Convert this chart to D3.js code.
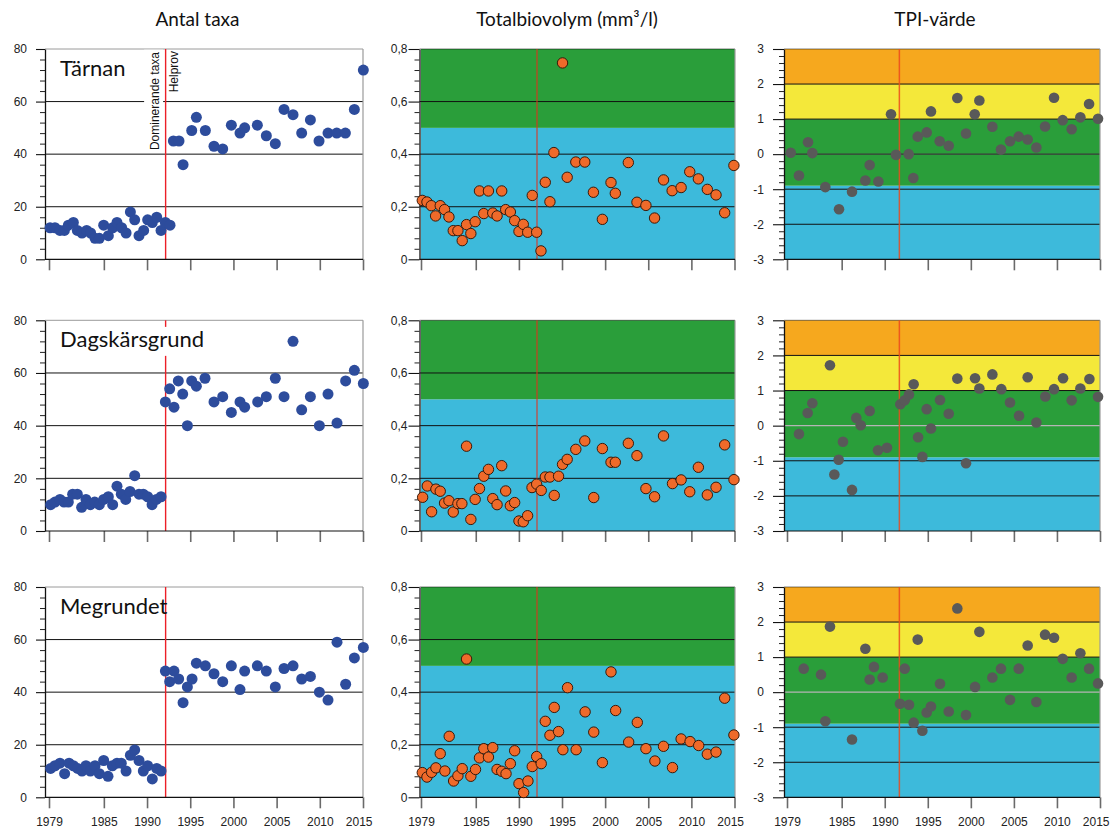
<!DOCTYPE html>
<html>
<head>
<meta charset="utf-8">
<script src="https://cdn.jsdelivr.net/npm/d3@7"></script>
<style>
  body { margin: 0; background: #fff; }
  svg { display: block; }
</style>
</head>
<body>
<svg id="chart" width="1112" height="830"></svg>
<script>
// ---------------------------------------------------------------
// Växtplankton i Bottenviken: antal taxa, totalbiovolym och TPI
// per station, 1979–2015. Varje punkt = [provtagningsår, värde].
// ---------------------------------------------------------------
const stations = ["Tärnan", "Dagskärsgrund", "Megrundet"];
const columnTitles = ["Antal taxa", "Totalbiovolym (mm³/l)", "TPI-värde"];

const xTickYears  = [1978.65, 1985, 1990, 1995, 2000, 2005, 2010, 2015];
const xTickLabels = ["1979", "1985", "1990", "1995", "2000", "2005", "2010", "2015"];

const taxaTicks = [0, 20, 40, 60, 80];
const taxaTickLabels = ["0", "20", "40", "60", "80"];
const volTicks = [0, 0.2, 0.4, 0.6, 0.8];
const volTickLabels = ["0", "0,2", "0,4", "0,6", "0,8"];
const tpiTicks = [-3, -2, -1, 0, 1, 2, 3];
const tpiTickLabels = ["-3", "-2", "-1", "0", "1", "2", "3"];

// Klassgränser (bakgrundsfält)
const volBands = [[0, 0.5], [0.5, 0.8]];
const tpiBands = [[-3, -0.9], [-0.9, 1], [1, 2], [2, 3]];

// Byte från dominerande taxa till helprov
const methodChangeYear = [1992.15, 1992.1, 1991.7];
const methodLabels = ["Dominerande taxa", "Helprov"];

// ---------------- Tärnan ----------------
const tarnanTaxa = [
  [1978.77,12],[1979.34,12],[1979.92,11],[1980.43,11],[1980.89,13],[1981.47,14],[1981.93,11],
  [1982.47,10],[1983.01,11],[1983.47,10],[1983.98,8],[1984.48,8],[1984.98,13],[1985.52,9],
  [1986.02,12],[1986.52,14],[1987.06,12],[1987.57,10],[1988.07,18],[1988.57,15],[1989.07,9],
  [1989.61,11],[1990.07,15],[1990.61,14],[1991.12,16],[1991.62,11],[1992.12,14],[1992.66,13],
  [1993.05,45],[1993.70,45],[1994.17,36],[1995.17,49],[1995.71,54],[1996.75,49],[1997.75,43],
  [1998.76,42],[1999.76,51],[2000.76,48],[2001.30,50],[2002.77,51],[2003.81,47],[2004.85,44],
  [2005.86,57],[2006.90,55],[2007.90,48],[2008.91,53],[2009.91,45],[2010.95,48],[2011.96,48],
  [2012.96,48],[2014.00,57],[2015.04,72]
];
const tarnanVolume = [
  [1978.80,0.224],[1979.34,0.218],[1979.84,0.204],[1980.34,0.165],[1980.88,0.204],[1981.38,0.189],
  [1981.89,0.161],[1982.39,0.109],[1982.93,0.109],[1983.43,0.071],[1983.93,0.132],[1984.43,0.098],
  [1984.93,0.143],[1985.43,0.260],[1985.93,0.174],[1986.47,0.260],[1986.97,0.176],[1987.47,0.165],
  [1988.01,0.260],[1988.47,0.189],[1989.01,0.180],[1989.51,0.147],[1990.01,0.106],[1990.51,0.133],
  [1991.02,0.103],[1991.55,0.243],[1992.06,0.103],[1992.56,0.032],[1993.06,0.293],[1993.60,0.219],
  [1994.06,0.406],[1995.06,0.747],[1995.60,0.312],[1996.60,0.370],[1997.64,0.370],[1998.64,0.255],
  [1999.68,0.152],[2000.68,0.292],[2001.18,0.251],[2002.69,0.368],[2003.69,0.217],[2004.73,0.205],
  [2005.73,0.157],[2006.77,0.302],[2007.77,0.261],[2008.81,0.273],[2009.81,0.333],[2010.81,0.306],
  [2011.85,0.266],[2012.86,0.245],[2013.86,0.177],[2014.93,0.357]
];
const tarnanTpi = [
  [1979.08,0.04],[1980.04,-0.61],[1981.09,0.34],[1981.59,0.03],[1983.10,-0.94],[1984.69,-1.57],
  [1986.20,-1.07],[1987.75,-0.75],[1988.25,-0.31],[1989.26,-0.78],[1990.73,1.14],[1991.31,-0.02],
  [1992.78,0.00],[1993.32,-0.68],[1993.83,0.50],[1994.87,0.62],[1995.37,1.22],[1996.38,0.37],
  [1997.43,0.24],[1998.43,1.60],[1999.44,0.59],[2000.45,1.14],[2000.99,1.53],[2002.50,0.78],
  [2003.50,0.13],[2004.55,0.37],[2005.56,0.50],[2006.60,0.42],[2007.61,0.19],[2008.62,0.79],
  [2009.66,1.61],[2010.67,0.97],[2011.71,0.71],[2012.72,1.05],[2013.73,1.43],[2014.77,1.01]
];

// ---------------- Dagskärsgrund ----------------
const dagskarTaxa = [
  [1978.84,10],[1979.34,11],[1979.92,12],[1980.39,11],[1980.89,11],[1981.39,14],[1981.93,14],
  [1982.43,9],[1982.93,12],[1983.44,10],[1983.94,11],[1984.48,10],[1984.98,12],[1985.52,13],
  [1986.02,10],[1986.52,17],[1987.02,14],[1987.53,12],[1988.03,15],[1988.57,21],[1989.07,14],
  [1989.57,14],[1990.07,13],[1990.58,10],[1991.08,12],[1991.62,13],
  [1992.12,49],[1992.62,54],[1993.12,47],[1993.62,57],[1994.13,52],[1994.67,40],[1995.17,57],
  [1995.71,55],[1996.71,58],[1997.75,49],[1998.76,51],[1999.76,45],[2000.76,49],[2001.30,47],
  [2002.81,49],[2003.81,51],[2004.85,58],[2005.86,51],[2006.90,72],[2007.90,46],[2008.91,51],
  [2009.95,40],[2010.95,52],[2011.99,41],[2012.99,57],[2014.00,61],[2015.04,56]
];
const dagskarVolume = [
  [1978.84,0.128],[1979.38,0.171],[1979.88,0.073],[1980.38,0.159],[1980.88,0.151],[1981.38,0.106],
  [1981.89,0.115],[1982.39,0.072],[1982.93,0.104],[1983.39,0.104],[1983.93,0.322],[1984.43,0.044],
  [1984.93,0.120],[1985.43,0.161],[1985.93,0.208],[1986.47,0.234],[1986.97,0.123],[1987.47,0.100],
  [1988.01,0.248],[1988.47,0.152],[1989.01,0.096],[1989.51,0.108],[1990.01,0.038],[1990.51,0.035],
  [1991.01,0.058],[1991.52,0.165],[1992.06,0.178],[1992.59,0.154],[1993.06,0.205],[1993.60,0.205],
  [1994.10,0.135],[1994.60,0.208],[1995.06,0.253],[1995.60,0.272],[1996.60,0.310],[1997.64,0.342],
  [1998.68,0.127],[1999.68,0.313],[2000.68,0.261],[2001.18,0.261],[2002.69,0.333],[2003.69,0.286],
  [2004.73,0.161],[2005.73,0.130],[2006.77,0.361],[2007.81,0.180],[2008.81,0.194],[2009.81,0.149],
  [2010.81,0.242],[2011.85,0.137],[2012.86,0.166],[2013.86,0.327],[2014.94,0.195]
];
const dagskarTpi = [
  [1980.04,-0.24],[1981.05,0.36],[1981.59,0.64],[1983.64,1.72],[1984.15,-1.39],[1984.65,-0.97],
  [1985.15,-0.46],[1986.20,-1.83],[1986.70,0.22],[1987.21,0.01],[1988.25,0.42],[1989.22,-0.70],
  [1990.26,-0.63],[1991.81,0.61],[1992.32,0.72],[1992.82,0.89],[1993.36,1.18],[1993.87,-0.33],
  [1994.37,-0.89],[1994.87,0.47],[1995.37,-0.08],[1996.42,0.73],[1997.43,0.34],[1998.43,1.34],
  [1999.44,-1.07],[2000.49,1.35],[2000.99,1.06],[2002.50,1.46],[2003.54,1.04],[2004.55,0.66],
  [2005.60,0.28],[2006.60,1.38],[2007.61,0.09],[2008.65,0.83],[2009.66,1.04],[2010.71,1.35],
  [2011.71,0.72],[2012.72,1.06],[2013.77,1.33],[2014.77,0.82]
];

// ---------------- Megrundet ----------------
const megrundetTaxa = [
  [1978.84,11],[1979.34,12],[1979.92,13],[1980.46,9],[1980.97,13],[1981.47,12],[1981.97,11],
  [1982.47,10],[1982.93,12],[1983.44,10],[1983.98,12],[1984.48,9],[1984.98,14],[1985.48,8],
  [1985.98,12],[1986.52,13],[1987.02,13],[1987.57,10],[1988.07,16],[1988.57,18],[1989.07,14],
  [1989.57,10],[1990.07,12],[1990.61,7],[1991.12,11],[1991.62,10],
  [1992.12,48],[1992.62,44],[1993.12,48],[1993.66,45],[1994.17,36],[1994.67,42],[1995.21,45],
  [1995.71,51],[1996.75,50],[1997.75,47],[1998.76,44],[1999.76,50],[2000.76,41],[2001.30,48],
  [2002.77,50],[2003.81,48],[2004.85,42],[2005.86,49],[2006.90,50],[2007.90,45],[2008.91,46],
  [2009.95,40],[2010.95,37],[2011.99,59],[2012.99,43],[2014.00,53],[2015.04,57]
];
const megrundetVolume = [
  [1978.80,0.094],[1979.34,0.077],[1979.88,0.095],[1980.38,0.112],[1980.88,0.166],[1981.42,0.100],
  [1981.92,0.232],[1982.43,0.062],[1982.93,0.082],[1983.43,0.109],[1983.93,0.526],[1984.43,0.080],
  [1984.97,0.106],[1985.43,0.150],[1985.93,0.185],[1986.47,0.153],[1986.97,0.189],[1987.47,0.106],
  [1988.01,0.099],[1988.51,0.090],[1989.01,0.128],[1989.51,0.177],[1990.01,0.052],[1990.55,0.018],
  [1991.05,0.062],[1991.55,0.117],[1992.06,0.155],[1992.59,0.128],[1993.06,0.289],[1993.60,0.236],
  [1994.10,0.342],[1994.60,0.250],[1995.10,0.181],[1995.64,0.417],[1996.64,0.181],[1997.68,0.325],
  [1998.68,0.248],[1999.68,0.132],[2000.68,0.477],[2001.22,0.330],[2002.73,0.210],[2003.73,0.285],
  [2004.73,0.185],[2005.77,0.138],[2006.77,0.194],[2007.81,0.113],[2008.81,0.222],[2009.85,0.212],
  [2010.85,0.197],[2011.85,0.164],[2012.86,0.172],[2013.86,0.377],[2014.93,0.237]
];
const megrundetTpi = [
  [1980.59,0.67],[1982.60,0.50],[1983.10,-0.83],[1983.64,1.87],[1986.20,-1.35],[1987.75,1.24],
  [1988.25,0.36],[1988.75,0.72],[1989.76,0.42],[1991.77,-0.33],[1992.32,0.67],[1992.82,-0.36],
  [1993.36,-0.87],[1993.83,1.50],[1994.37,-1.10],[1994.87,-0.58],[1995.37,-0.41],[1996.42,0.24],
  [1997.43,-0.55],[1998.43,2.39],[1999.44,-0.65],[2000.49,0.15],[2000.99,1.72],[2002.50,0.42],
  [2003.50,0.67],[2004.55,-0.22],[2005.56,0.67],[2006.60,1.33],[2007.61,-0.28],[2008.62,1.64],
  [2009.66,1.55],[2010.67,0.95],[2011.71,0.42],[2012.72,1.11],[2013.73,0.67],[2014.77,0.25]
];

const stationSeries = [
  [tarnanTaxa, tarnanVolume, tarnanTpi],
  [dagskarTaxa, dagskarVolume, dagskarTpi],
  [megrundetTaxa, megrundetVolume, megrundetTpi]
];

// ---------------- Layout & styles ----------------
const BLUE = "#3dbadb", GREEN = "#2a9e3a", YELLOW = "#f4e83a", ORANGE = "#f6a81e";
const rowsY = [[49, 259.3], [320.3, 531], [587, 797.3]];
const xDomain = [1978.65, 2015];

const columns = [
  { axisX: 45,    x0: 49,  x1: 363,   right: 363,  domain: [0, 80],  ticks: taxaTicks, labels: taxaTickLabels,
    minorStep: 4, majorLen: 9, pad: 9, grid: [20, 40, 60], bands: null,
    dot: { r: 5.5, fill: "#2d4c9c", stroke: "none" },
    divider: { color: "#ec1f27", width: 1.4, opacity: 1 }, topBorder: "#9a9a9a" },
  { axisX: 419.5, x0: 421, x1: 734.5, right: 735, domain: [0, 0.8], ticks: volTicks, labels: volTickLabels,
    minorStep: 0.04, majorLen: 11, pad: 1, grid: [0.2, 0.4, 0.6], bands: volBands, bandColors: [BLUE, GREEN], fillX: 421,
    dot: { r: 5.2, fill: "#ef6a2a", stroke: "#3a1a0a" },
    divider: { color: "#e0301e", width: 1.1, opacity: 0.95 }, topBorder: "rgba(0,0,0,0.5)" },
  { axisX: 784,   x0: 787, x1: 1100,  right: 1100, domain: [-3, 3],  ticks: tpiTicks, labels: tpiTickLabels,
    minorStep: 0.2, majorLen: 11, pad: 9, grid: [-2, -1, 1, 2], bands: tpiBands, bandColors: [BLUE, GREEN, YELLOW, ORANGE], fillX: 784.5,
    dot: { r: 5.3, fill: "#595959", stroke: "none" },
    divider: { color: "#ec4a1c", width: 1.5, opacity: 0.85 }, topBorder: "rgba(0,0,0,0.5)" }
];
const tpiZeroColor = ["#3a3a3a", "#b5b5b5", "#b5b5b5"];
const titleX = [197.5, 567, 935];

const svg = d3.select("#chart");

// Kolumnrubriker
svg.selectAll("text.col-title")
  .data(columnTitles)
  .join("text")
  .attr("class", "col-title")
  .attr("x", (d, i) => titleX[i])
  .attr("y", 26)
  .attr("text-anchor", "middle")
  .style("font-family", "Lato, 'Noto Sans', sans-serif")
  .style("font-size", "19px")
  .style("fill", "#111")
  .text(d => d);

rowsY.forEach(([top, bottom], r) => {
  columns.forEach((col, c) => {
    const x = d3.scaleLinear().domain(xDomain).range([col.x0, col.x1]);
    const y = d3.scaleLinear().domain(col.domain).range([bottom, top]);
    const g = svg.append("g");

    // Bakgrundsfält
    if (col.bands) {
      g.selectAll("rect.band")
        .data(col.bands)
        .join("rect")
        .attr("x", col.fillX)
        .attr("width", col.right - col.fillX)
        .attr("y", d => y(d[1]))
        .attr("height", d => y(d[0]) - y(d[1]))
        .attr("fill", (d, i) => col.bandColors[i]);
    }

    // Stödlinjer
    g.selectAll("line.grid")
      .data(col.grid)
      .join("line")
      .attr("x1", col.axisX).attr("x2", col.right)
      .attr("y1", d => y(d)).attr("y2", d => y(d))
      .attr("stroke", "#111").attr("stroke-width", 1);

    if (c === 2) {
      g.append("line")
        .attr("x1", col.axisX).attr("x2", col.right)
        .attr("y1", y(0)).attr("y2", y(0))
        .attr("stroke", tpiZeroColor[r]).attr("stroke-width", 1.2);
    }

    // Ram upptill och till höger
    g.append("line")
      .attr("x1", col.axisX).attr("x2", col.right)
      .attr("y1", top).attr("y2", top)
      .attr("stroke", col.topBorder).attr("stroke-width", 1);
    g.append("line")
      .attr("x1", col.right).attr("x2", col.right)
      .attr("y1", top).attr("y2", bottom)
      .attr("stroke", "#9a9a9a").attr("stroke-width", 1.2);

    // Metodbyte: etiketter (endast Tärnan, antal taxa)
    if (r === 0 && c === 0) {
      const xd = x(methodChangeYear[c]);
      const lab = g.append("g").attr("transform", `translate(${xd - 7},52) rotate(-90)`);
      const bg = lab.append("rect").attr("fill", "#fff");
      const t = lab.append("text")
        .attr("text-anchor", "end")
        .style("font-family", "'Liberation Sans', Arial, sans-serif")
        .style("font-size", "12px")
        .style("fill", "#111")
        .text(methodLabels[0]);
      const bb = t.node().getBBox();
      bg.attr("x", bb.x - 2).attr("y", bb.y - 3.5).attr("width", bb.width + 4).attr("height", bb.height + 5);
      g.append("text")
        .attr("transform", `translate(${xd + 12.5},51) rotate(-90)`)
        .attr("text-anchor", "end")
        .style("font-family", "'Liberation Sans', Arial, sans-serif")
        .style("font-size", "12px")
        .style("fill", "#111")
        .text(methodLabels[1]);
    }

    // Metodbyte: lodrät linje
    const dv = col.divider;
    const xd = x(methodChangeYear[c]);
    const segs = (r === 1 && c === 0) ? [[top, y(77.5)], [y(66.5), bottom]] : [[top, bottom]];
    segs.forEach(([a, b]) => {
      g.append("line")
        .attr("x1", xd).attr("x2", xd).attr("y1", a).attr("y2", b)
        .attr("stroke", dv.color).attr("stroke-width", dv.width).attr("stroke-opacity", dv.opacity);
    });

    // X-axel
    const xAxis = d3.axisBottom(x)
      .tickValues(xTickYears)
      .tickSize(11)
      .tickSizeOuter(0)
      .tickPadding(9)
      .tickFormat((d, i) => r === 2 ? xTickLabels[i] : "");
    const gx = g.append("g").attr("transform", `translate(0,${bottom})`).call(xAxis);
    gx.select(".domain").remove();
    gx.selectAll(".tick line").attr("stroke", "#6a6a6a").attr("stroke-width", 1.6);
    const lastTick = xTickYears.length - 1;
    gx.selectAll(".tick text")
      .style("font-family", "'Liberation Sans Narrow', 'Liberation Sans', Arial, sans-serif")
      .style("font-size", "12px")
      .attr("fill", "#222")
      // sista årtalet ligger mot bildkanten: högerjustera det
      .attr("text-anchor", (d, i) => i === lastTick ? "end" : "middle")
      .attr("x", (d, i) => i === lastTick ? 9 : 0);
    g.append("line")
      .attr("x1", col.axisX).attr("x2", col.right)
      .attr("y1", bottom).attr("y2", bottom)
      .attr("stroke", "#111").attr("stroke-width", 1.2);

    // Y-axel: huvud- och delstreck
    const yMajor = d3.axisLeft(y)
      .tickValues(col.ticks)
      .tickSize(col.majorLen)
      .tickSizeOuter(0)
      .tickPadding(col.pad)
      .tickFormat((d, i) => col.labels[i]);
    const gy = g.append("g").attr("transform", `translate(${col.axisX},0)`).call(yMajor);
    gy.select(".domain").attr("stroke", "#111").attr("stroke-width", 1.3);
    gy.selectAll(".tick line").attr("stroke", "#111").attr("stroke-width", 1.1);
    gy.selectAll(".tick text")
      .style("font-family", "'Liberation Sans', Arial, sans-serif")
      .style("font-size", "12px")
      .attr("fill", "#222");

    const [d0, d1] = col.domain;
    const minorVals = d3.range(d0, d1 + col.minorStep / 2, col.minorStep)
      .filter(v => !col.ticks.some(t => Math.abs(t - v) < 1e-9));
    const yMinor = d3.axisLeft(y).tickValues(minorVals).tickSize(5).tickFormat("");
    const gm = g.append("g").attr("transform", `translate(${col.axisX},0)`).call(yMinor);
    gm.select(".domain").remove();
    gm.selectAll(".tick line").attr("stroke", "#222").attr("stroke-width", 1);

    // Datapunkter
    g.selectAll("circle.pt")
      .data(stationSeries[r][c])
      .join("circle")
      .attr("class", "pt")
      .attr("cx", d => x(d[0]))
      .attr("cy", d => y(d[1]))
      .attr("r", col.dot.r)
      .attr("fill", col.dot.fill)
      .attr("stroke", col.dot.stroke)
      .attr("stroke-width", 1);

    // Stationsnamn
    if (c === 0) {
      g.append("text")
        .attr("x", 60)
        .attr("y", top + 27)
        .style("font-family", "Lato, 'Noto Sans', sans-serif")
        .style("font-size", "22px")
        .style("fill", "#111")
        .text(stations[r]);
    }
  });
});
</script>
</body>
</html>
